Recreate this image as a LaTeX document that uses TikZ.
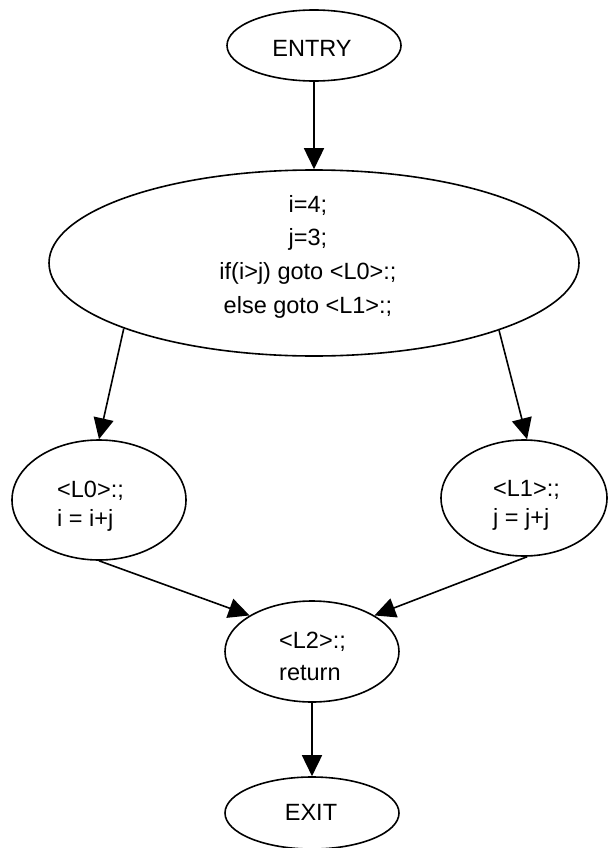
\documentclass[tikz,border=0pt]{standalone}
\usepackage{fontspec}
\setmainfont{Liberation Sans}
\usetikzlibrary{shapes.geometric,arrows.meta}
\begin{document}
\begin{tikzpicture}[x=1pt,y=-1pt,
  blob/.style={draw, ellipse, line width=1.6pt, inner sep=0pt},
  txt/.style={inner sep=0pt, font=\fontsize{23.5}{28}\selectfont},
  flow/.style={line width=1.6pt, -{Triangle[length=21pt,width=20pt]}}]
\useasboundingbox (0,0) rectangle (608,848);
% shapes
\node[blob, minimum width=174pt, minimum height=71pt]  (entry) at (314,45.5) {};
\node[blob, minimum width=530pt, minimum height=186pt] (main)  at (314,263) {};
\node[blob, minimum width=174pt, minimum height=120pt] (l0)    at (99,500) {};
\node[blob, minimum width=166pt, minimum height=116pt] (l1)    at (524,498) {};
\node[blob, minimum width=174pt, minimum height=101pt] (l2)    at (312,651.5) {};
\node[blob, minimum width=174pt, minimum height=72pt]  (exit)  at (312,813) {};
% texts
\node[txt, anchor=base] (tentry) at (312,56.7) {ENTRY};
\node[txt, anchor=base] (tm1) at (308,212) {i=4;};
\node[txt, anchor=base] (tm2) at (308,245.5) {j=3;};
\node[txt, anchor=base] (tm3) at (308,279.5) {if(i>j) goto <L0>:;};
\node[txt, anchor=base] (tm4) at (308,313) {else goto <L1>:;};
\node[txt, anchor=base west] (ta1) at (57,497) {<L0>:;};
\node[txt, anchor=base west] (ta2) at (57,526) {i = i+j};
\node[txt, anchor=base west] (tb1) at (493,496) {<L1>:;};
\node[txt, anchor=base west] (tb2) at (493,525) {j = j+j};
\node[txt, anchor=base west] (tc1) at (279,648) {<L2>:;};
\node[txt, anchor=base west] (tc2) at (279,680) {return};
\node[txt, anchor=base] (texit) at (311,820) {EXIT};
% connectors
\draw[flow] (entry.south) -- (main.north);
\draw[flow] (main.199.4) -- (l0.north);
\draw[flow] (main.340.6) -- (l1.87);
\draw[flow] (l0.south) -- (l2.150);
\draw[flow] (l1.273) -- (l2.30);
\draw[flow] (l2.south) -- (exit.north);
\end{tikzpicture}
\end{document}
